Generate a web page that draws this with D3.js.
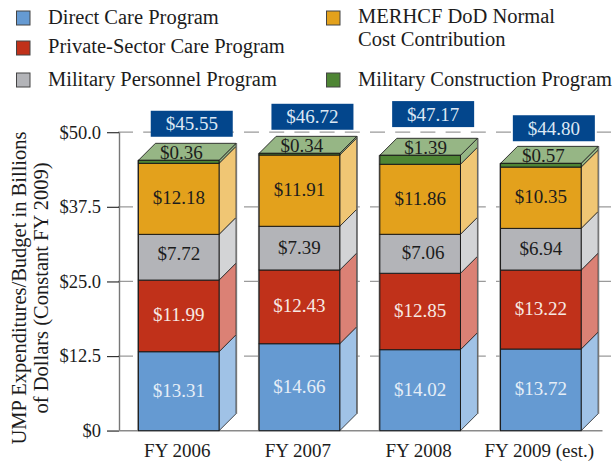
<!DOCTYPE html>
<html><head><meta charset="utf-8">
<script src="https://cdn.jsdelivr.net/npm/d3@7"></script>
<style>
html,body{margin:0;padding:0;background:#fff}
svg{display:block}
text{font-family:"Liberation Serif",serif;font-size:19px;fill:#1c1c1c}
.lg text{font-size:20.5px}
.yt text{font-size:20.5px}
</style></head><body>
<svg id="c" width="616" height="464"></svg>
<script>
const categories=["FY 2006","FY 2007","FY 2008","FY 2009 (est.)"];
const seriesNames=["Direct Care Program","Private-Sector Care Program","Military Personnel Program","MERHCF DoD Normal Cost Contribution","Military Construction Program"];
// Printed values
const directCareLabels=[13.31,14.66,14.02,13.72];
const privateCareLabels=[11.99,12.43,12.85,13.22];
const personnelLabels=[7.72,7.39,7.06,6.94];
const merhcfLabels=[12.18,11.91,11.86,10.35];
const constructionLabels=[0.36,0.34,1.39,0.57];
const totals=[45.55,46.72,47.17,44.80];
// Segment heights as they are drawn in the picture
const directCare=[13.23,14.57,13.57,13.68];
const privateCare=[12.0,12.35,12.8,13.23];
const personnel=[7.66,7.32,6.53,6.98];
const merhcf=[11.9,11.94,11.73,10.27];
const construction=[0.5,0.28,1.5,0.62];
const yTicks=[0,12.5,25,37.5,50];
const yTickLabels=["$0","$12.5","$25.0","$37.5","$50.0"];
const frontColors=["#659ad2","#c0311a","#b3b4b8","#e3a11c","#4e8534"];
const sideColors=["#a0c2e6","#db8175","#d3d4d6","#f0c674","#96b685"];
const labelColors=["#e6eef7","#f7e9e4","#1c1c1c","#1c1c1c","#1c1c1c"];

const svg=d3.select("#c");
const x=d3.scaleBand().domain(categories).range([118.4,601.2]).paddingInner(0.332).paddingOuter(0.166);
const y=d3.scaleLinear().domain([0,50]).range([430.7,132.2]);
const depth=17;
const money=d=>"$"+d.toFixed(2);

// gridlines
svg.append("g").selectAll("line").data(yTicks.slice(1)).join("line")
  .attr("x1",118).attr("x2",611).attr("y1",d=>y(d)).attr("y2",d=>y(d))
  .attr("stroke","#9a9a9a").attr("stroke-width",1.3).attr("stroke-dasharray","15 10.2");

// axes
const gy=svg.append("g").attr("transform","translate(119,0)")
  .call(d3.axisLeft(y).tickValues(yTicks).tickFormat((d,i)=>yTickLabels[i]).tickSize(12).tickPadding(6));
gy.select(".domain").attr("d",`M0.5,${y(50)}V${y(0)}`).attr("stroke","#777").attr("stroke-width",1.4).attr("fill","none");
gy.selectAll(".tick line").attr("stroke","#333").attr("stroke-width",1.2);
gy.selectAll("text").style("font-size","18.5px").attr("fill","#1c1c1c").attr("font-family",null);

svg.append("line").attr("x1",107).attr("x2",602.5).attr("y1",y(0)).attr("y2",y(0)).attr("stroke","#8a8a8a").attr("stroke-width",1.4);

const gx=svg.append("g").attr("transform",`translate(-1.5,${y(0)})`)
  .call(d3.axisBottom(x).tickSize(0).tickPadding(13));
gx.select(".domain").remove();
gx.selectAll("text").style("font-size","19px").attr("fill","#1c1c1c").attr("font-family",null);

// stacked data
const rows=categories.map((c,i)=>({cat:c,s0:directCare[i],s1:privateCare[i],s2:personnel[i],s3:merhcf[i],s4:construction[i]}));
const stacked=d3.stack().keys(["s0","s1","s2","s3","s4"])(rows);
const printed=[directCareLabels,privateCareLabels,personnelLabels,merhcfLabels,constructionLabels];

// back/left shadow edges
const bars=svg.append("g");
categories.forEach((c,i)=>{
  const x0=x(c),x1=x0+x.bandwidth();
  const top=y(stacked[4][i][1]);
  bars.append("line").attr("x1",x0-0.4).attr("x2",x0-0.4).attr("y1",top).attr("y2",y(0))
    .attr("stroke","#8a8a8a").attr("stroke-width",1.6);
  stacked.forEach((s,k)=>{
    const yb=y(s[i][0]),yt=y(s[i][1]);
    bars.append("path")
      .attr("d",d3.line()([[x1,yb],[x1+depth,yb-depth],[x1+depth,yt-depth],[x1,yt]])+"Z")
      .attr("fill",sideColors[k]).attr("stroke","#222").attr("stroke-width",0.8);
  });
  // outer back edge
  bars.append("line").attr("x1",x1+depth+0.5).attr("x2",x1+depth+0.5).attr("y1",top-depth).attr("y2",y(0)-depth)
    .attr("stroke","#777").attr("stroke-width",1.2);
  // top face
  bars.append("path")
    .attr("d",d3.line()([[x0,top],[x0+depth,top-depth],[x1+depth,top-depth],[x1,top]])+"Z")
    .attr("fill",sideColors[4]).attr("stroke","#222").attr("stroke-width",0.9);
  stacked.forEach((s,k)=>{
    const yb=y(s[i][0]),yt=y(s[i][1]);
    bars.append("rect").attr("x",x0).attr("y",yt).attr("width",x.bandwidth()).attr("height",yb-yt)
      .attr("fill",frontColors[k]).attr("stroke","#1a1a1a").attr("stroke-width",1);
  });
});

// value labels (a few are set slightly off centre in the reference)
const cx=c=>x(c)+x.bandwidth()/2;
stacked.forEach((s,k)=>{
  svg.append("g").selectAll("text").data(categories).join("text")
    .attr("text-anchor","middle").attr("dominant-baseline","central")
    .attr("x",(d,i)=>cx(d)+(k===4?2.5:0)+((k===4||k===2)&&i===2?3:0))
    .attr("y",(d,i)=>(k===4?y(s[i][1])-8:(y(s[i][0])+y(s[i][1]))/2-1)-(k===2&&i===0?3:0))
    .style("fill",labelColors[k])
    .text((d,i)=>money(printed[k][i]));
});

// total boxes
const boxW=82,boxH=26;
const boxes=svg.append("g").selectAll("g").data(categories).join("g")
  .attr("transform",(d,i)=>`translate(${cx(d)+13-boxW/2},${y(totals[i])-22-boxH})`);
boxes.append("rect").attr("width",boxW).attr("height",boxH).attr("fill","#03468c");
boxes.append("text").attr("x",boxW/2).attr("y",boxH/2).attr("text-anchor","middle").attr("dominant-baseline","central")
  .style("fill","#dde8f4").text((d,i)=>money(totals[i]));

// y title
const yTitle=svg.append("g").attr("class","yt").attr("transform","translate(0,288) rotate(-90)");
yTitle.append("text").attr("x",0).attr("y",26).attr("text-anchor","middle").text("UMP Expenditures/Budget in Billions");
yTitle.append("text").attr("x",0).attr("y",48).attr("text-anchor","middle").text("of Dollars (Constant FY 2009)");

// legend
const legendSwatch=[[16.5,11],[16.5,41],[16.5,73],[326.5,11],[326.5,73]];
const legendText=[[48,17,[seriesNames[0]]],[48,46,[seriesNames[1]]],[48,79,[seriesNames[2]]],[358,16,["MERHCF DoD Normal","Cost Contribution"]],[358,79,[seriesNames[4]]]];
const lg=svg.append("g").attr("class","lg");
seriesNames.forEach((n,k)=>{
  lg.append("rect").attr("x",legendSwatch[k][0]).attr("y",legendSwatch[k][1]).attr("width",13.5).attr("height",14)
    .attr("fill",frontColors[k]).attr("stroke","#444").attr("stroke-width",1);
  legendText[k][2].forEach((line,j)=>{
    lg.append("text").attr("x",legendText[k][0]).attr("y",legendText[k][1]+j*23).attr("dominant-baseline","central").text(line);
  });
});
</script>
</body></html>
